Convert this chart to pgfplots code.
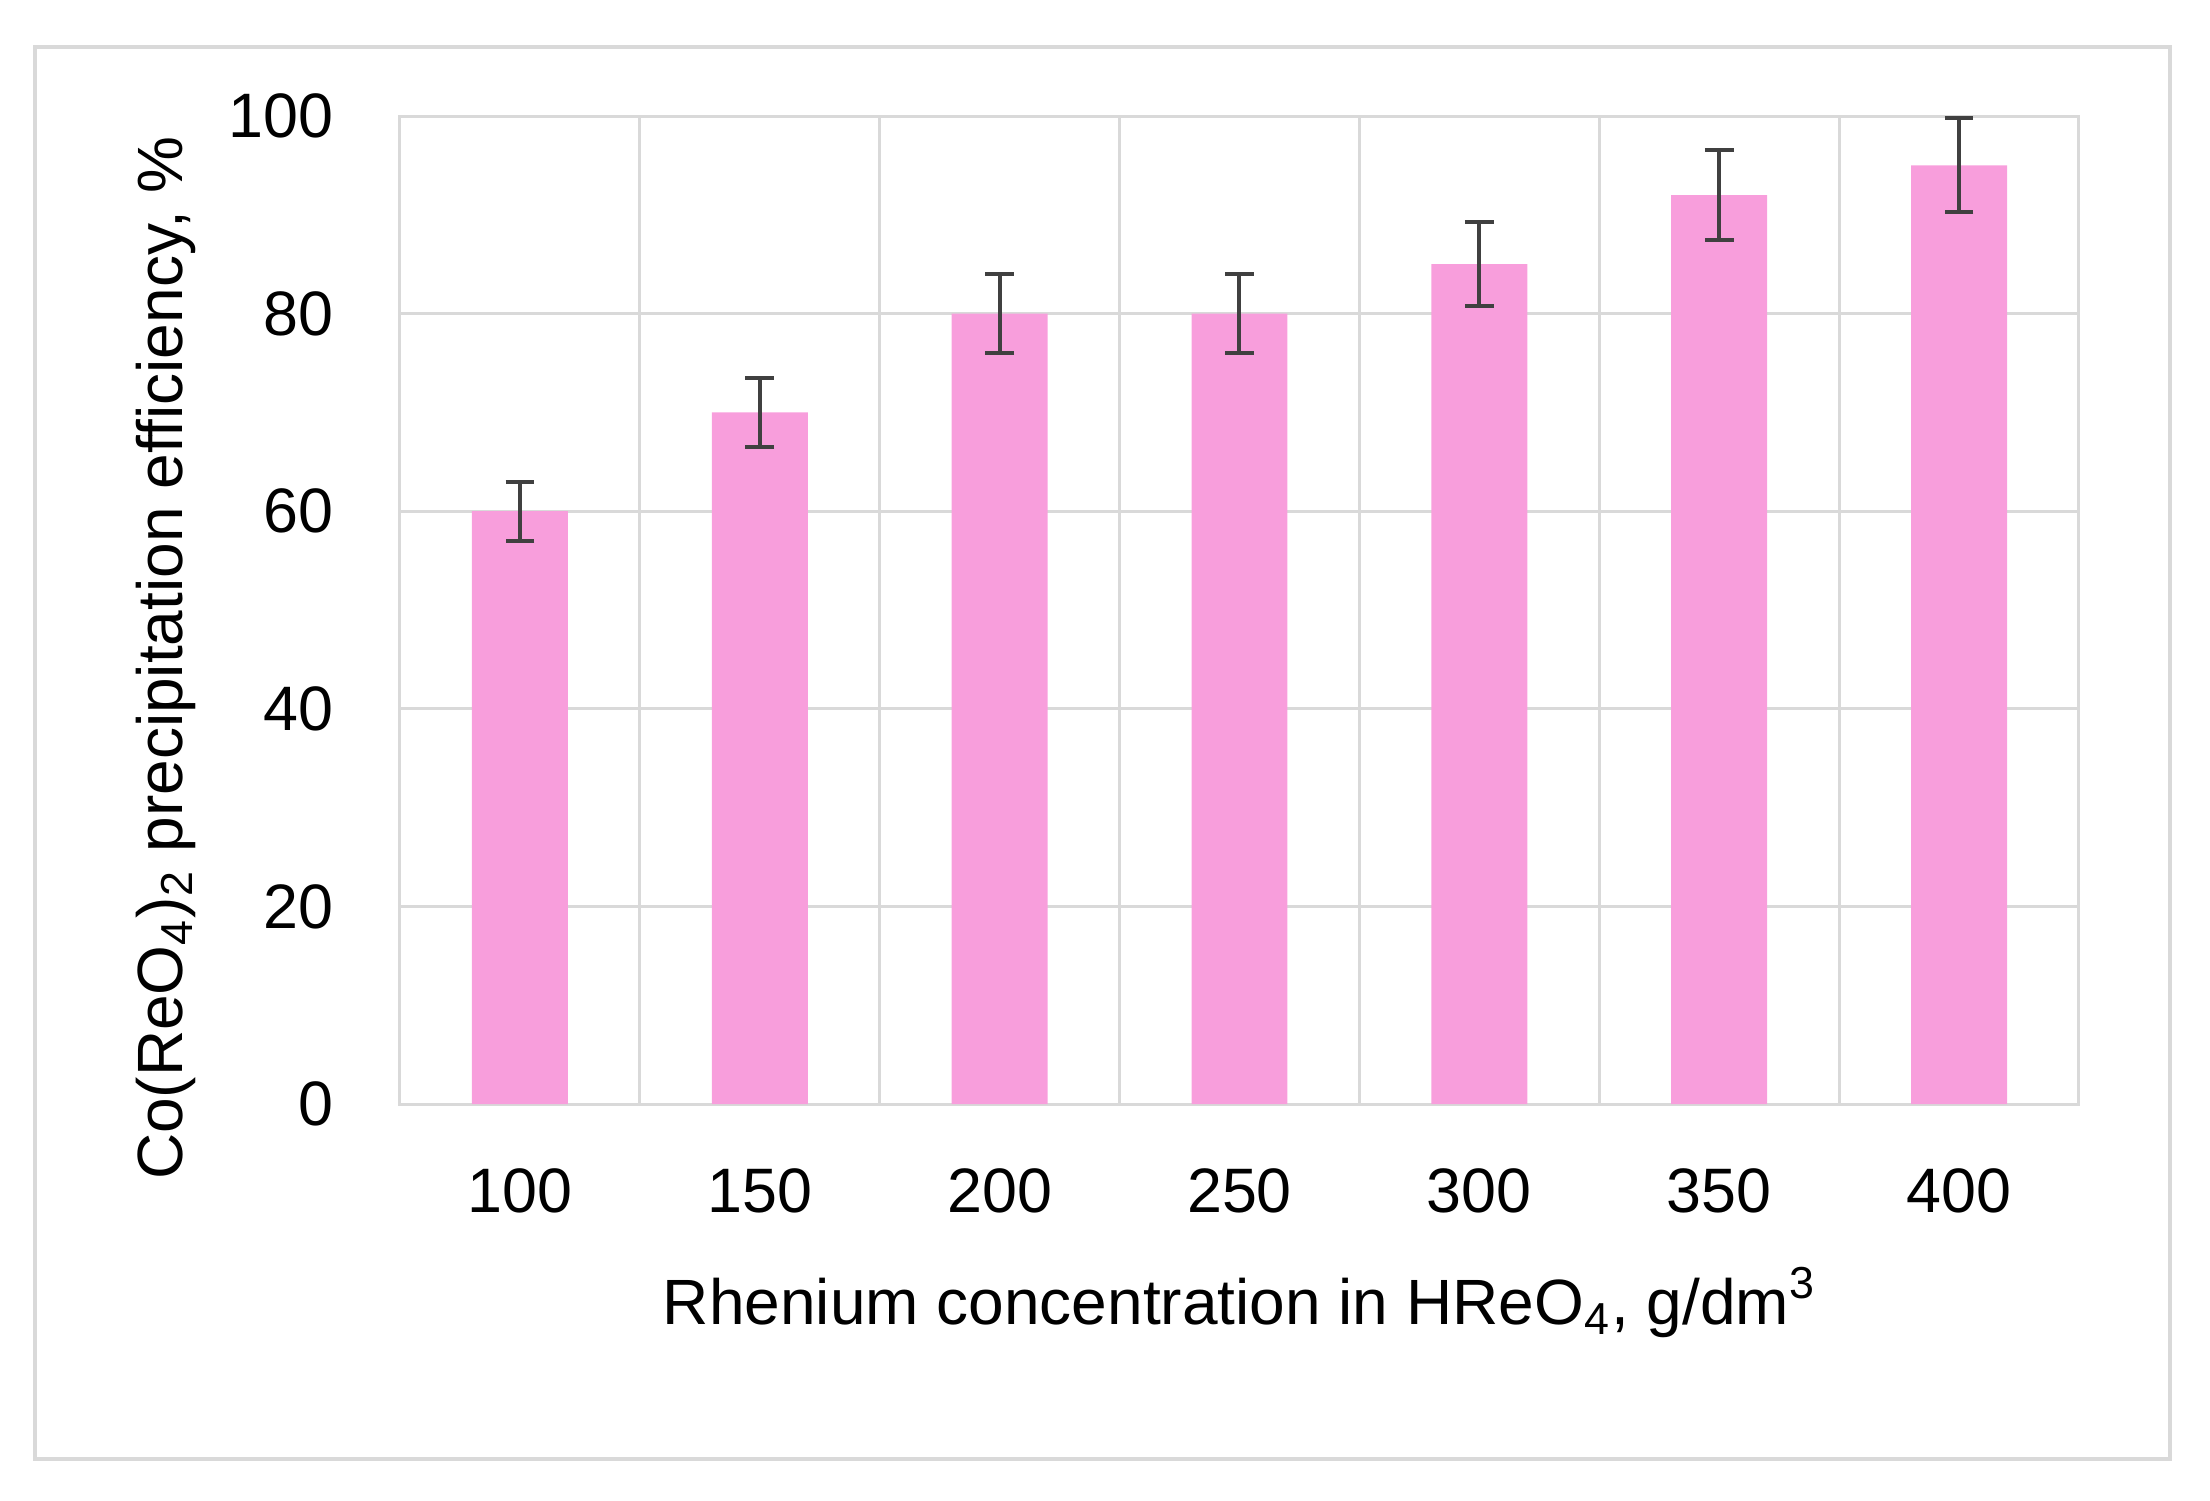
\documentclass[border=0pt]{standalone}
\usepackage{fontspec}
\setmainfont{Liberation Sans}
\usepackage{pgfplots}
\pgfplotsset{compat=1.18}

\definecolor{barpink}{HTML}{F89EDC}
\definecolor{gridgray}{HTML}{D9D9D9}
\definecolor{errgray}{HTML}{404040}

\begin{document}
\begin{tikzpicture}
% page size and outer frame (1px = 0.25pt of the reference)
\path[use as bounding box] (-100pt,-99.25pt) rectangle (452.5pt,276pt);
\draw[gridgray, line width=0.8pt] (-91.25pt,-88.75pt) rectangle (442.5pt,264.25pt);
\begin{axis}[
    scale only axis,
    width=419.75pt,
    height=247pt,
    xmin=-0.5, xmax=6.5,
    ymin=0, ymax=100,
    xtick={0,1,2,3,4,5,6},
    xticklabels={100,150,200,250,300,350,400},
    minor xtick={-0.5,0.5,1.5,2.5,3.5,4.5,5.5,6.5},
    ytick={0,20,40,60,80,100},
    xmajorgrids=false,
    xminorgrids=true,
    ymajorgrids=true,
    grid style={gridgray, line width=0.75pt},
    minor grid style={gridgray, line width=0.75pt},
    axis line style={gridgray, line width=0.75pt},
    major tick length=0pt,
    minor tick length=0pt,
    /pgf/number format/assume math mode=true,
    tick label style={font=\fontsize{15.7}{18}\selectfont, inner sep=0pt},
    yticklabel style={xshift=-16.5pt},
    xticklabel style={yshift=-16pt},
    label style={font=\fontsize{16}{19}\selectfont},
    xlabel={Rhenium concentration in HReO\textsubscript{4}, g/dm\textsuperscript{3}},
    xlabel style={at={(axis description cs:0.5,0)}, anchor=base, yshift=-55pt},
    ylabel={Co(ReO\textsubscript{4})\textsubscript{2} precipitation efficiency, \%},
    % shifts act in the rotated frame of the label
    ylabel style={at={(axis description cs:0,0.5)}, anchor=center, xshift=-12pt, yshift=58.5pt},
]
\addplot[ybar, bar width=0.4, fill=barpink, draw=none,
    error bars/.cd, y dir=both, y explicit,
    error bar style={errgray, line width=1pt},
    error mark options={errgray, rotate=90, mark size=3.6pt, line width=1pt}]
coordinates {
    (0,60) +- (0,3)
    (1,70) +- (0,3.5)
    (2,80) +- (0,4)
    (3,80) +- (0,4)
    (4,85) +- (0,4.25)
    (5,92) +- (0,4.6)
    (6,95) +- (0,4.75)
};
\end{axis}
\end{tikzpicture}
\end{document}
